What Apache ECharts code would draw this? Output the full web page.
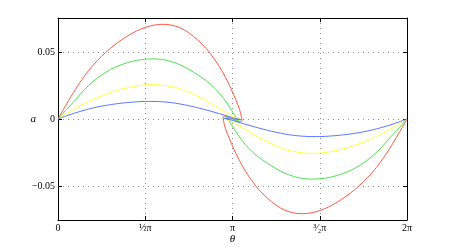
<!DOCTYPE html>
<html><head><meta charset="utf-8">
<script src="https://cdn.jsdelivr.net/npm/echarts@6/dist/echarts.min.js"></script>
<style>html,body{margin:0;padding:0;background:#fff}#c{width:450px;height:250px}</style>
</head><body><div id="c"></div>
<script>
// x values in units of pi (theta / pi), y values = a
const xTickValues = [0, 0.5, 1, 1.5, 2];
const xTickLabels = ['0', '½π', 'π', '³⁄₂π', '2π'];
const yTickValues = [-0.05, 0, 0.05];
const yTickLabels = ['−0.05', '0', '0.05'];

const redCurve = [
 [0,0],[0.05,0.0114],[0.10,0.0221],[0.15,0.0318],[0.20,0.0400],[0.25,0.0468],[0.30,0.0527],
 [0.35,0.0577],[0.40,0.0620],[0.45,0.0656],[0.50,0.0683],[0.55,0.0700],[0.60,0.0706],[0.65,0.0700],
 [0.70,0.0680],[0.75,0.0642],[0.80,0.0590],[0.85,0.0525],[0.90,0.0440],[0.95,0.0335],[0.99,0.0230],
 [1.02,0.0140],[1.04,0.0072],[1.052,0.0012],[1.054,-0.0012],[1.047,-0.0022],[1.0,0],
 [0.953,0.0022],[0.946,0.0012],[0.948,-0.0012],[0.96,-0.0072],[0.98,-0.0140],[1.01,-0.0230],
 [1.05,-0.0335],[1.10,-0.0440],[1.15,-0.0525],[1.20,-0.0590],[1.25,-0.0642],[1.30,-0.0680],
 [1.35,-0.0700],[1.40,-0.0706],[1.45,-0.0700],[1.50,-0.0683],[1.55,-0.0656],[1.60,-0.0620],
 [1.65,-0.0577],[1.70,-0.0527],[1.75,-0.0468],[1.80,-0.0400],[1.85,-0.0318],[1.90,-0.0221],
 [1.95,-0.0114],[2,0]
];
const greenCurve = [
 [0,0],[0.05,0.0073],[0.10,0.0142],[0.15,0.0218],[0.20,0.0278],[0.25,0.0328],[0.30,0.0368],
 [0.35,0.0398],[0.40,0.0421],[0.45,0.0437],[0.50,0.0446],[0.55,0.0448],[0.60,0.0443],[0.65,0.0428],
 [0.70,0.0404],[0.75,0.0370],[0.80,0.0330],[0.85,0.0285],[0.90,0.0228],[0.95,0.0152],[0.99,0.0075],
 [1.02,0.0015],[1.035,-0.0012],[1.04,-0.0020],[1.0,0],
 [0.96,0.0020],[0.965,0.0012],[0.98,-0.0015],[1.01,-0.0075],[1.05,-0.0152],[1.10,-0.0228],
 [1.15,-0.0285],[1.20,-0.0330],[1.25,-0.0370],[1.30,-0.0404],[1.35,-0.0428],[1.40,-0.0443],
 [1.45,-0.0448],[1.50,-0.0446],[1.55,-0.0437],[1.60,-0.0421],[1.65,-0.0398],[1.70,-0.0368],
 [1.75,-0.0328],[1.80,-0.0278],[1.85,-0.0218],[1.90,-0.0142],[1.95,-0.0073],[2,0]
];
const yellowCurve = [
 [0,0],[0.05,0.0040],[0.10,0.0079],[0.15,0.0114],[0.20,0.0145],[0.25,0.0173],[0.30,0.0197],
 [0.35,0.0217],[0.40,0.0233],[0.45,0.0246],[0.50,0.0254],[0.55,0.0256],[0.60,0.0252],[0.65,0.0242],
 [0.70,0.0226],[0.75,0.0200],[0.80,0.0170],[0.85,0.0136],[0.90,0.0098],[0.95,0.0060],[0.99,0.0028],
 [1.02,0.0012],[1.048,-0.0004],[1.0,0],
 [0.952,0.0004],[0.98,-0.0012],[1.01,-0.0028],[1.05,-0.0060],[1.10,-0.0098],[1.15,-0.0136],
 [1.20,-0.0170],[1.25,-0.0200],[1.30,-0.0226],[1.35,-0.0242],[1.40,-0.0252],[1.45,-0.0256],
 [1.50,-0.0254],[1.55,-0.0246],[1.60,-0.0233],[1.65,-0.0217],[1.70,-0.0197],[1.75,-0.0173],
 [1.80,-0.0145],[1.85,-0.0114],[1.90,-0.0079],[1.95,-0.0040],[2,0]
];
const blueCurve = [
 [0,0],[0.05,0.0024],[0.10,0.0046],[0.15,0.0065],[0.20,0.0082],[0.25,0.0096],[0.30,0.0107],
 [0.35,0.0116],[0.40,0.0123],[0.45,0.0128],[0.50,0.0131],[0.55,0.0131],[0.60,0.0128],[0.65,0.0122],
 [0.70,0.0112],[0.75,0.0099],[0.80,0.0084],[0.85,0.0067],[0.90,0.0049],[0.95,0.0030],[1.0,0.0011],
 [1.05,-0.0006],[0.95,0.0006],
 [1.0,-0.0011],[1.05,-0.0030],[1.10,-0.0049],[1.15,-0.0067],[1.20,-0.0084],[1.25,-0.0099],
 [1.30,-0.0112],[1.35,-0.0122],[1.40,-0.0128],[1.45,-0.0131],[1.50,-0.0131],[1.55,-0.0128],
 [1.60,-0.0123],[1.65,-0.0116],[1.70,-0.0107],[1.75,-0.0096],[1.80,-0.0082],[1.85,-0.0065],
 [1.90,-0.0046],[1.95,-0.0024],[2,0]
];
const seriesNames = ['red', 'green', 'yellow', 'blue'];
const seriesColors = ['#ff5a44', '#4fe04f', '#ffff3c', '#5a78ff'];
const seriesData = [redCurve, greenCurve, yellowCurve, blueCurve];

const serif = '"Liberation Serif","DejaVu Serif",serif';
const chart = echarts.init(document.getElementById('c'), null, {renderer: 'canvas'});
const gridLine = {show: true, lineStyle: {color: '#8a8a8a', type: [1, 4], width: 1}};
const frameLine = {show: true, onZero: false, lineStyle: {color: '#000', width: 1}};
chart.setOption({
  animation: false,
  backgroundColor: '#fff',
  grid: {left: 58, right: 43, top: 18, bottom: 28, containLabel: false},
  xAxis: [{
    type: 'value', min: 0, max: 2, interval: 0.5,
    name: 'θ', nameLocation: 'middle', nameGap: 14, nameMoveOverlap: false,
    nameTextStyle: {fontFamily: serif, fontStyle: 'italic', fontSize: 11, color: '#000'},
    axisLine: frameLine,
    axisTick: {show: true, inside: true, length: 4, lineStyle: {color: '#000'}},
    axisLabel: {margin: 3, fontFamily: serif, fontSize: 10, color: '#000',
      formatter: v => { const i = xTickValues.findIndex(t => Math.abs(t - v) < 1e-9); return i >= 0 ? xTickLabels[i] : ''; }},
    splitLine: gridLine
  }, {
    type: 'value', min: 0, max: 2, interval: 0.5, position: 'top',
    axisLine: frameLine,
    axisTick: {show: true, inside: true, length: 4, lineStyle: {color: '#000'}},
    axisLabel: {show: false}, splitLine: {show: false}
  }],
  yAxis: [{
    type: 'value', min: -0.0753, max: 0.0753,
    name: 'a', nameLocation: 'middle', nameGap: 22, nameRotate: 0, nameMoveOverlap: false,
    nameTextStyle: {fontFamily: serif, fontStyle: 'italic', fontSize: 11, color: '#000'},
    axisLine: frameLine,
    axisTick: {show: true, inside: true, length: 4, lineStyle: {color: '#000'}, customValues: yTickValues},
    axisLabel: {margin: 3, fontFamily: serif, fontSize: 10, color: '#000', customValues: yTickValues,
      formatter: v => { const i = yTickValues.findIndex(t => Math.abs(t - v) < 1e-9); return i >= 0 ? yTickLabels[i] : ''; }},
    splitLine: gridLine
  }, {
    type: 'value', min: -0.0753, max: 0.0753, position: 'right',
    axisLine: frameLine,
    axisTick: {show: true, inside: true, length: 4, lineStyle: {color: '#000'}, customValues: yTickValues},
    axisLabel: {show: false}, splitLine: {show: false}
  }],
  series: seriesData.map((d, i) => ({
    name: seriesNames[i], type: 'line', data: d, xAxisIndex: 0, yAxisIndex: 0,
    showSymbol: false, smooth: 0.3, clip: true,
    lineStyle: {color: seriesColors[i], width: 1}
  }))
});
</script></body></html>
